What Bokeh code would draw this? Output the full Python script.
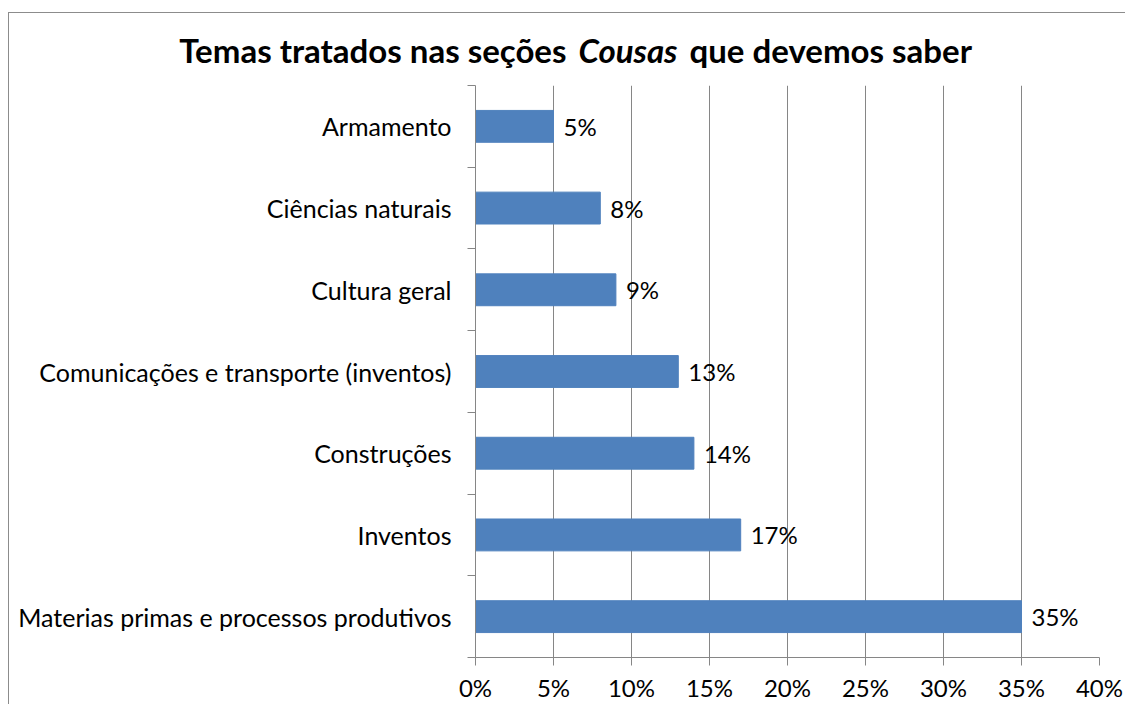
from bokeh.plotting import figure
from bokeh.layouts import column
from bokeh.models import Range1d, FixedTicker, ColumnDataSource, LabelSet, Label
from bokeh.core.properties import value
from bokeh.embed import file_html
from bokeh.resources import INLINE

# ---- data ----
categories = [
    "Armamento",
    "Ciências naturais",
    "Cultura geral",
    "Comunicações e transporte (inventos)",
    "Construções",
    "Inventos",
    "Materias primas e processos produtivos",
]
values = [5, 8, 9, 13, 14, 17, 35]
value_labels = ["5%", "8%", "9%", "13%", "14%", "17%", "35%"]
x_ticks = [0, 5, 10, 15, 20, 25, 30, 35, 40]
x_tick_labels = ["0%", "5%", "10%", "15%", "20%", "25%", "30%", "35%", "40%"]
title_parts = ["Temas tratados nas seções", "Cousas", "que devemos saber"]

# ---- styling constants ----
FONT = "Lato"
GRAY = "#868686"
BAR = "#4f81bd"
TOTAL_W = 1116
TITLE_H = 72
MAIN_H = 616
LEFT = 466
FRAME_W, FRAME_H = 624, 572
n = len(categories)

# ---- title strip (mixed bold / bold italic) ----
pt = figure(width=TOTAL_W, height=TITLE_H, x_range=Range1d(0, TOTAL_W), y_range=Range1d(0, TITLE_H),
            x_axis_type=None, y_axis_type=None, output_backend="svg", toolbar_location=None,
            title=None, min_border=0)
pt.frame_align = False
pt.outline_line_color = None
common = dict(y=36, text_font=FONT, text_font_size="33px",
              text_color="black", text_baseline="alphabetic")
pt.add_layout(Label(x=557, text=title_parts[0], text_align="right",
                    text_font_style="bold", **common))
pt.add_layout(Label(x=618.5, text=title_parts[1], text_align="center",
                    text_font_style="bold italic", **common))
pt.add_layout(Label(x=680, text=title_parts[2], text_align="left",
                    text_font_style="bold", **common))

# ---- main chart ----
y_centers = [n - i - 0.5 for i in range(n)]
src = ColumnDataSource(dict(y=y_centers, value=values, label=value_labels, cat=categories))

p = figure(
    frame_width=FRAME_W, frame_height=FRAME_H,
    min_border_left=LEFT, min_border_right=TOTAL_W - LEFT - FRAME_W,
    min_border_top=0, min_border_bottom=MAIN_H - FRAME_H,
    x_range=Range1d(0, 40), y_range=Range1d(0, n),
    output_backend="svg", toolbar_location=None, title=None,
)
p.frame_align = False
p.outline_line_color = None

p.hbar(y="y", left=0, right="value", height=0.39, source=src,
       fill_color=BAR, line_color=BAR)

# x axis
xa = p.xaxis[0]
xa.ticker = FixedTicker(ticks=x_ticks)
xa.major_label_overrides = {t: l for t, l in zip(x_ticks, x_tick_labels)}
xa.axis_line_color = GRAY
xa.major_tick_line_color = GRAY
xa.major_tick_out = 8
xa.major_tick_in = 0
xa.minor_tick_line_color = None
xa.major_label_text_font = FONT
xa.major_label_text_font_size = "24px"
xa.major_label_text_color = "black"
xa.major_label_standoff = 7

# y axis
ya = p.yaxis[0]
ya.ticker = FixedTicker(ticks=y_centers, minor_ticks=list(range(n + 1)))
ya.major_label_overrides = {y: c for y, c in zip(y_centers, categories)}
ya.axis_line_color = GRAY
ya.major_tick_line_color = None
ya.major_tick_out = 0
ya.major_tick_in = 0
ya.minor_tick_line_color = GRAY
ya.minor_tick_out = 8
ya.minor_tick_in = 0
ya.major_label_text_font = FONT
ya.major_label_text_font_size = "25px"
ya.major_label_text_color = "black"
ya.major_label_standoff = 16

# grids
p.ygrid.visible = False
p.xgrid.ticker = FixedTicker(ticks=x_ticks)
p.xgrid.grid_line_color = GRAY
p.xgrid.grid_line_width = 1

# value labels
p.add_layout(LabelSet(x="value", y="y", text="label", source=src, x_offset=10,
                      text_baseline="middle", text_align="left",
                      text_font=value(FONT), text_font_size="24px", text_color="black"))

layout = column(pt, p, spacing=0)
layout.margin = (12, 0, 0, 8)
layout.styles = {"border-top": "1px solid #8c8c8c", "border-left": "1px solid #8c8c8c"}

open("out.html", "w").write(file_html(layout, INLINE))
